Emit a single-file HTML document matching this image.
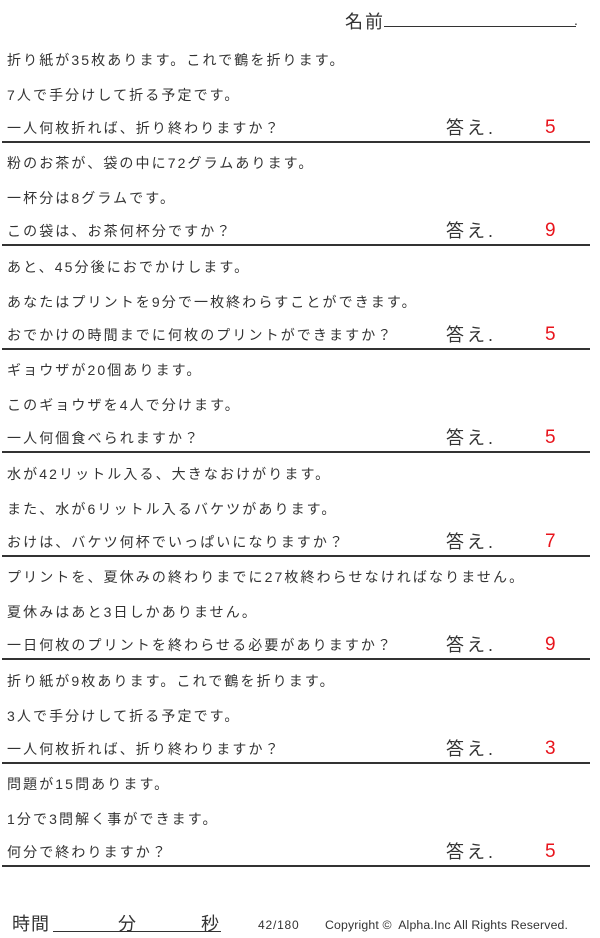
<!DOCTYPE html>
<html><head><meta charset="utf-8"><style>
body{margin:0;width:600px;height:938px;background:#fff;position:relative;overflow:hidden;font-family:"Liberation Sans","Noto Sans CJK JP",sans-serif;color:#333}
.t{position:absolute;left:7px;font-size:14px;letter-spacing:2.1px;line-height:16px;white-space:nowrap}
.a{position:absolute;left:446px;font-size:18px;letter-spacing:3px;line-height:20px;color:#333}
.n{position:absolute;left:545px;font-size:19px;line-height:20px;color:#e8141c}
.l{position:absolute;left:2px;width:588px;height:2px;background:#333}
</style></head><body>
<div style="position:absolute;left:345px;top:8px;font-size:18px;letter-spacing:2px">名前</div>
<div style="position:absolute;left:384px;top:26px;width:192px;height:1px;background:#333"></div>
<div style="position:absolute;left:574px;top:12px;font-size:14px">.</div>

<div class="t" style="top:52px">折り紙が35枚あります。これで鶴を折ります。</div>
<div class="t" style="top:87px">7人で手分けして折る予定です。</div>
<div class="t" style="top:120px">一人何枚折れば、折り終わりますか？</div>
<div class="a" style="top:118px">答え.</div><div class="n" style="top:118px">5</div>
<div class="l" style="top:141px"></div>

<div class="t" style="top:155px">粉のお茶が、袋の中に72グラムあります。</div>
<div class="t" style="top:190px">一杯分は8グラムです。</div>
<div class="t" style="top:223px">この袋は、お茶何杯分ですか？</div>
<div class="a" style="top:221px">答え.</div><div class="n" style="top:221px">9</div>
<div class="l" style="top:244px"></div>

<div class="t" style="top:259px">あと、45分後におでかけします。</div>
<div class="t" style="top:294px">あなたはプリントを9分で一枚終わらすことができます。</div>
<div class="t" style="top:327px">おでかけの時間までに何枚のプリントができますか？</div>
<div class="a" style="top:325px">答え.</div><div class="n" style="top:325px">5</div>
<div class="l" style="top:348px"></div>

<div class="t" style="top:362px">ギョウザが20個あります。</div>
<div class="t" style="top:397px">このギョウザを4人で分けます。</div>
<div class="t" style="top:430px">一人何個食べられますか？</div>
<div class="a" style="top:428px">答え.</div><div class="n" style="top:428px">5</div>
<div class="l" style="top:451px"></div>

<div class="t" style="top:466px">水が42リットル入る、大きなおけがります。</div>
<div class="t" style="top:501px">また、水が6リットル入るバケツがあります。</div>
<div class="t" style="top:534px">おけは、バケツ何杯でいっぱいになりますか？</div>
<div class="a" style="top:532px">答え.</div><div class="n" style="top:532px">7</div>
<div class="l" style="top:555px"></div>

<div class="t" style="top:569px">プリントを、夏休みの終わりまでに27枚終わらせなければなりません。</div>
<div class="t" style="top:604px">夏休みはあと3日しかありません。</div>
<div class="t" style="top:637px">一日何枚のプリントを終わらせる必要がありますか？</div>
<div class="a" style="top:635px">答え.</div><div class="n" style="top:635px">9</div>
<div class="l" style="top:658px"></div>

<div class="t" style="top:673px">折り紙が9枚あります。これで鶴を折ります。</div>
<div class="t" style="top:708px">3人で手分けして折る予定です。</div>
<div class="t" style="top:741px">一人何枚折れば、折り終わりますか？</div>
<div class="a" style="top:739px">答え.</div><div class="n" style="top:739px">3</div>
<div class="l" style="top:762px"></div>

<div class="t" style="top:776px">問題が15問あります。</div>
<div class="t" style="top:811px">1分で3問解く事ができます。</div>
<div class="t" style="top:844px">何分で終わりますか？</div>
<div class="a" style="top:842px">答え.</div><div class="n" style="top:842px">5</div>
<div class="l" style="top:865px"></div>

<div style="position:absolute;left:12px;top:910px;font-size:18px;letter-spacing:1px">時間</div>
<div style="position:absolute;left:118px;top:910px;font-size:18px">分</div>
<div style="position:absolute;left:201px;top:910px;font-size:18px">秒</div>
<div style="position:absolute;left:53px;top:931px;width:168px;height:1px;background:#333"></div>
<div style="position:absolute;left:258px;top:918px;font-size:12px;letter-spacing:0.8px">42/180</div>
<div style="position:absolute;left:325px;top:918px;font-size:12.3px;letter-spacing:0.15px">Copyright ©&nbsp; Alpha.Inc All Rights Reserved.</div>
</body></html>
